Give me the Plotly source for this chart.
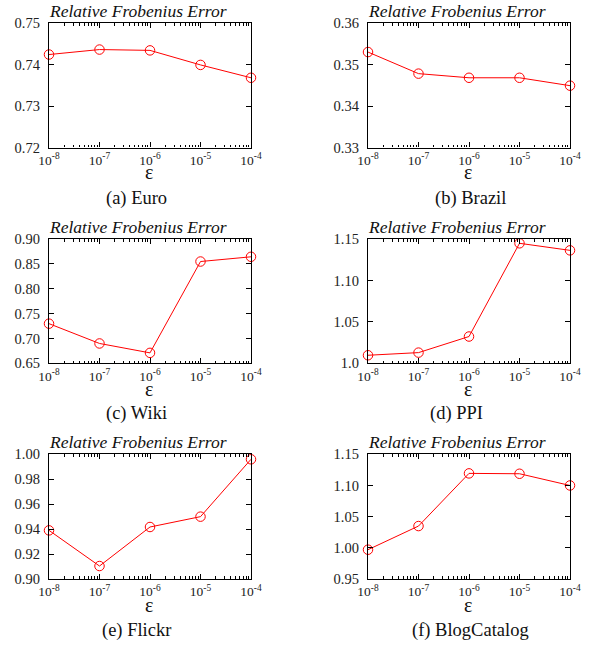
import plotly.graph_objects as go

eps = [1e-8, 1e-7, 1e-6, 1e-5, 1e-4]
x_tickvals = [1e-8, 1e-7, 1e-6, 1e-5, 1e-4]
x_ticktext = ["10<sup>-8</sup>", "10<sup>-7</sup>", "10<sup>-6</sup>", "10<sup>-5</sup>", "10<sup>-4</sup>"]

euro = [0.7424, 0.7436, 0.7434, 0.7399, 0.7368]
brazil = [0.3530, 0.3478, 0.3468, 0.3468, 0.3449]
wiki = [0.7297, 0.6899, 0.6710, 0.8547, 0.8642]
ppi = [1.0097, 1.0129, 1.0323, 1.1448, 1.1363]
flickr = [0.9390, 0.9104, 0.9417, 0.9500, 0.9960]
blog = [0.9970, 1.0349, 1.1194, 1.1188, 1.1000]

captions = ["(a) Euro", "(b) Brazil", "(c) Wiki", "(d) PPI", "(e) Flickr", "(f) BlogCatalog"]
series = [euro, brazil, wiki, ppi, flickr, blog]

yticks = [
    [0.72, 0.73, 0.74, 0.75],
    [0.33, 0.34, 0.35, 0.36],
    [0.65, 0.70, 0.75, 0.80, 0.85, 0.90],
    [1.0, 1.05, 1.10, 1.15],
    [0.90, 0.92, 0.94, 0.96, 0.98, 1.00],
    [0.95, 1.00, 1.05, 1.10, 1.15],
]
ytext = [
    ["0.72", "0.73", "0.74", "0.75"],
    ["0.33", "0.34", "0.35", "0.36"],
    ["0.65", "0.70", "0.75", "0.80", "0.85", "0.90"],
    ["1.0", "1.05", "1.10", "1.15"],
    ["0.90", "0.92", "0.94", "0.96", "0.98", "1.00"],
    ["0.95", "1.00", "1.05", "1.10", "1.15"],
]

W, H = 589, 646
xdoms_px = [(49, 251), (368, 570)]
ydoms_px = [(23, 147.5), (239, 363.3), (454.3, 579)]
cap_x = [136, 470, 136, 456, 136, 470]
cap_y = [198, 413, 630]
eps_x = [149, 468]
eps_y = [172, 389, 605]


def px(X):
    return X / W


def py(Y):
    return 1 - Y / H


fig = go.Figure()
serif = "Liberation Serif"

for i, (vals, cap) in enumerate(zip(series, captions)):
    r, c = divmod(i, 2)
    xa = "x" if i == 0 else f"x{i+1}"
    ya = "y" if i == 0 else f"y{i+1}"
    fig.add_trace(go.Scatter(
        x=eps, y=vals, xaxis=xa, yaxis=ya, mode="lines+markers",
        line=dict(color="#ff0000", width=1),
        marker=dict(symbol="circle-open", size=9.5, color="#ff0000", line=dict(width=1)),
        cliponaxis=False, showlegend=False, hoverinfo="skip"))
    x0, x1 = xdoms_px[c]
    t, b = ydoms_px[r]
    xkey = "xaxis" if i == 0 else f"xaxis{i+1}"
    ykey = "yaxis" if i == 0 else f"yaxis{i+1}"
    fig.layout[xkey] = dict(
        domain=[px(x0), px(x1)], anchor=ya, type="log", range=[-8.00001, -3.99999],
        tickvals=x_tickvals, ticktext=x_ticktext, automargin=False,
        ticks="inside", ticklen=5, tickcolor="black", tickwidth=1,
        minor=dict(ticks="inside", ticklen=2.5, tickcolor="black", tickwidth=1, dtick="D1"),
        showline=True, linecolor="black", linewidth=1.3, mirror="allticks",
        showgrid=False, zeroline=False,
        tickfont=dict(family=serif, size=13.5, color="#222"),
    )
    lo, hi = yticks[i][0], yticks[i][-1]
    fig.layout[ykey] = dict(
        domain=[py(b), py(t)], anchor=xa, range=[lo, hi], automargin=False,
        tickvals=yticks[i], ticktext=ytext[i],
        ticks="inside", ticklen=5, tickcolor="black", tickwidth=1,
        showline=True, linecolor="black", linewidth=1.3, mirror="allticks",
        showgrid=False, zeroline=False, ticklabelstandoff=5,
        tickfont=dict(family=serif, size=14.5, color="#222"),
    )
    fig.add_annotation(
        text="<i>Relative Frobenius Error</i>", xref="paper", yref="paper",
        x=px(x0), y=py(t), xanchor="left", yanchor="bottom", showarrow=False,
        font=dict(family=serif, size=17.5, color="#111"), yshift=0, xshift=-2)
    fig.add_annotation(
        text="ε", xref="paper", yref="paper",
        x=px(eps_x[c]), y=py(eps_y[r]), xanchor="center", yanchor="middle", showarrow=False,
        font=dict(family=serif, size=20, color="#111"))
    fig.add_annotation(
        text=cap, xref="paper", yref="paper",
        x=px(cap_x[i]), y=py(cap_y[r]), xanchor="center", yanchor="middle", showarrow=False,
        font=dict(family=serif, size=18.5, color="#111"))

fig.update_layout(width=W, height=H, margin=dict(l=0, r=0, t=0, b=0),
                  paper_bgcolor="white", plot_bgcolor="white", hovermode=False)
fig.write_html("out.html", config={"displayModeBar": False},
               post_script="document.body.style.margin='0px';")
